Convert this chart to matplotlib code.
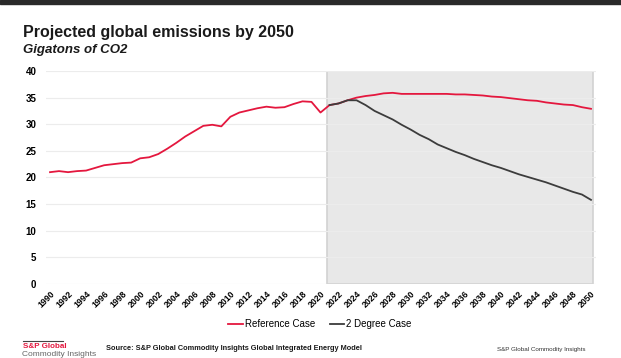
import matplotlib.pyplot as plt
from matplotlib.lines import Line2D

plt.rcParams['font.family'] = ['Liberation Sans', 'DejaVu Sans']

# Dados
anos_ref = list(range(1990, 2051))
ref_case = [21.0, 21.2, 21.0, 21.2, 21.3, 21.8, 22.3, 22.5, 22.7, 22.8,
            23.6, 23.8, 24.4, 25.4, 26.5, 27.7, 28.7, 29.7, 29.9, 29.6,
            31.4, 32.2, 32.6, 33.0, 33.3, 33.1, 33.2, 33.8, 34.3, 34.2,
            32.2, 33.6, 33.9, 34.5, 35.0, 35.3, 35.5, 35.8, 35.9, 35.7,
            35.7, 35.7, 35.7, 35.7, 35.7, 35.6, 35.6, 35.5, 35.4, 35.2,
            35.1, 34.9, 34.7, 34.5, 34.4, 34.1, 33.9, 33.7, 33.6, 33.2,
            32.9]
anos_2deg = list(range(2021, 2051))
deg2_case = [33.6, 33.9, 34.5, 34.5, 33.6, 32.5, 31.7, 30.9, 29.9, 29.0,
             28.0, 27.2, 26.2, 25.5, 24.8, 24.2, 23.5, 22.9, 22.3, 21.8,
             21.2, 20.6, 20.1, 19.6, 19.1, 18.5, 17.9, 17.3, 16.8, 15.8]
yticks = [0, 5, 10, 15, 20, 25, 30, 35, 40]
xticks = list(range(1990, 2051, 2))

vermelho = '#e4173e'
preto = '#3c3c3c'

fig = plt.figure(figsize=(6.21, 3.58), dpi=100)
ax = fig.add_axes([45.5 / 621, 0.2067, 550 / 621, 0.5950])

# faixa cinza da projecao
ax.axvspan(2020.7, 2050.2, facecolor='#e8e8e8', edgecolor='#d2d2d2', lw=1.2, zorder=0)

ax.plot(anos_ref, ref_case, color=vermelho, lw=1.3, zorder=3)
ax.plot(anos_2deg, deg2_case, color=preto, lw=1.3, zorder=3)

ax.set_xlim(1989.5, 2050.5)
ax.set_ylim(0, 40)
ax.set_yticks(yticks)
ax.set_xticks(xticks)
ax.set_xticklabels([str(x) for x in xticks], rotation=45, ha='right',
                   rotation_mode='anchor', fontsize=6.3, fontweight='bold')
ax.set_yticklabels([str(y) for y in yticks], fontsize=7, fontweight='bold')
ax.tick_params(axis='x', length=0, pad=4)
ax.tick_params(axis='y', length=0, pad=6.5)
ax.grid(axis='y', color='#ececec', lw=0.8, zorder=1)
ax.set_axisbelow(True)
for s in ax.spines.values():
    s.set_visible(False)

# barra escura no topo
fig.patches.append(plt.Rectangle((0, 354.5 / 358), 1, 3.5 / 358, transform=fig.transFigure,
                                 color='#2a2a2a', zorder=5))

fig.text(23 / 621, 1 - 33 / 358, 'Projected global emissions by 2050', fontsize=11.5,
         fontweight='bold', va='center', color='#1a1a1a')
fig.text(23 / 621, 1 - 50 / 358, 'Gigatons of CO2', fontsize=9.5, fontweight='bold',
         style='italic', va='center', color='#1a1a1a')

handles = [Line2D([], [], color=vermelho, lw=1.3), Line2D([], [], color=preto, lw=1.3)]
fig.legend(handles, ['Reference Case', '2 Degree Case'], loc='center',
           bbox_to_anchor=(320 / 621, 1 - 324 / 358), ncol=2, frameon=False,
           fontsize=7, handlelength=1.5, handletextpad=0.2, columnspacing=1.5)

# rodape
fig.add_artist(Line2D([23 / 621, 63 / 621], [1 - 340.5 / 358] * 2, color='#444444', lw=0.8))
fig.text(23 / 621, 1 - 347 / 358, 'S&P Global', fontsize=5.8, fontweight='bold',
         color=vermelho, va='center')
fig.text(22 / 621, 1 - 354 / 358, 'Commodity Insights', fontsize=6, color='#666666',
         va='center')
fig.text(106 / 621, 1 - 349 / 358,
         'Source: S&P Global Commodity Insights Global Integrated Energy Model',
         fontsize=5.3, fontweight='bold', va='center', color='#1a1a1a')
fig.text(497 / 621, 1 - 349 / 358, 'S&P Global Commodity Insights', fontsize=4.5,
         va='center', color='#333333')

plt.savefig('out.png', dpi=100)
